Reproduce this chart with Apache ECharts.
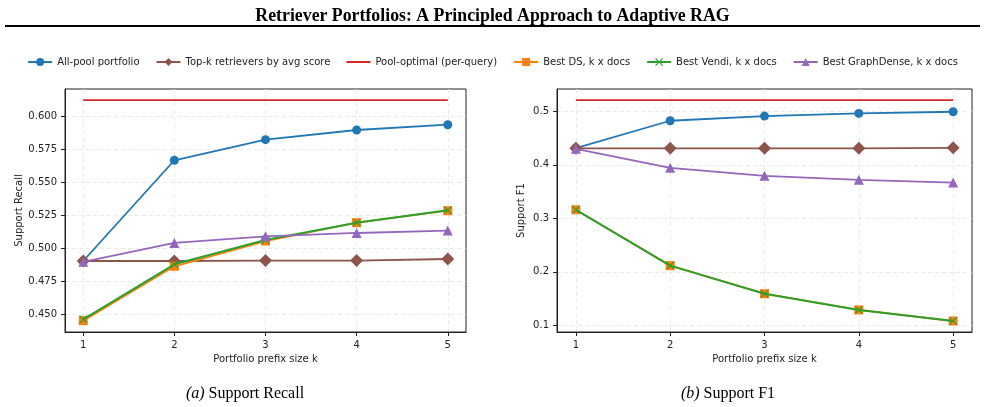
<!DOCTYPE html>
<html>
<head>
<meta charset="utf-8">
<script src="https://cdn.jsdelivr.net/npm/echarts@6/dist/echarts.min.js"></script>
<style>
    html, body { margin: 0; padding: 0; background: #fff; }
    #chart { width: 985px; height: 407px; }
</style>
</head>
<body>
<div id="chart"></div>
<script>
var kValues = [1, 2, 3, 4, 5];

// Support Recall (left panel)
var recallAllPool = [0.4903, 0.5665, 0.5821, 0.5894, 0.5934];
var recallTopK = [0.4903, 0.4903, 0.4906, 0.4906, 0.4918];
var recallPoolOptimal = [0.612, 0.612, 0.612, 0.612, 0.612];
var recallBestDS = [0.4452, 0.4863, 0.5054, 0.5193, 0.5284];
var recallBestVendi = [0.4462, 0.4878, 0.5062, 0.5193, 0.5287];
var recallBestGraphDense = [0.4897, 0.5040, 0.5090, 0.5115, 0.5133];
var recallTicks = [0.450, 0.475, 0.500, 0.525, 0.550, 0.575, 0.600];

// Support F1 (right panel)
var f1AllPool = [0.4314, 0.4826, 0.4913, 0.4963, 0.4994];
var f1TopK = [0.431, 0.431, 0.431, 0.431, 0.432];
var f1PoolOptimal = [0.5213, 0.5213, 0.5213, 0.5213, 0.5213];
var f1BestDS = [0.316, 0.2116, 0.159, 0.1287, 0.108];
var f1BestVendi = [0.316, 0.2116, 0.159, 0.1287, 0.108];
var f1BestGraphDense = [0.430, 0.3946, 0.3796, 0.372, 0.367];
var f1Ticks = [0.1, 0.2, 0.3, 0.4, 0.5];

var seriesNames = ['All-pool portfolio', 'Top-k retrievers by avg score', 'Pool-optimal (per-query)',
    'Best DS, k x docs', 'Best Vendi, k x docs', 'Best GraphDense, k x docs'];

var X_SYMBOL = 'path://M1,0 L5,4 L9,0 L10,1 L6,5 L10,9 L9,10 L5,6 L1,10 L0,9 L4,5 L0,1 Z';
var styles = [
    {color: '#1f77b4', symbol: 'circle', size: 9},
    {color: '#8c564b', symbol: 'diamond', size: 13},
    {color: '#d62728', symbol: 'none', size: 0},
    {color: '#ff7f0e', symbol: 'rect', size: 9},
    {color: '#2ca02c', symbol: X_SYMBOL, size: 8},
    {color: '#9467bd', symbol: 'triangle', size: 10}
];

function pairs(vals){
    return kValues.map(function(k, i){ return [k, vals[i]]; });
}

function makeSeries(idx, vals, panel){
    var st = styles[idx];
    return {
        name: seriesNames[idx],
        type: 'line',
        xAxisIndex: panel,
        yAxisIndex: panel,
        data: pairs(vals),
        symbol: st.symbol,
        symbolSize: st.size,
        showSymbol: st.symbol !== 'none',
        lineStyle: {color: st.color, width: idx === 4 ? 2 : 1.8},
        itemStyle: {color: st.color},
        emphasis: {disabled: true},
        z: 2 + idx,
        animation: false
    };
}

var axisFont = {fontFamily: 'DejaVu Sans', fontSize: 10, color: '#222'};
var gridLine = {show: true, lineStyle: {color: '#e4e4e4', type: [4, 3], width: 0.8}};

function xAxisFor(panel){
    return {
        type: 'value', gridIndex: panel, min: 0.8, max: 5.2,
        name: 'Portfolio prefix size k', nameLocation: 'middle', nameGap: 22,
        nameTextStyle: axisFont,
        axisLine: {show: true, onZero: false, lineStyle: {color: '#222', width: 1}},
        axisTick: {show: true, length: 4, lineStyle: {color: '#222'}, customValues: kValues},
        axisLabel: Object.assign({margin: 8, customValues: kValues, formatter: function(v){ return String(v); }}, axisFont),
        splitLine: gridLine
    };
}

function yAxisFor(panel, name, lo, hi, ticks, dec, gap){
    return {
        type: 'value', gridIndex: panel, min: lo, max: hi,
        name: name, nameLocation: 'middle', nameGap: gap,
        nameTextStyle: axisFont,
        axisLine: {show: true, onZero: false, lineStyle: {color: '#222', width: 1}},
        axisTick: {show: true, length: 4, lineStyle: {color: '#222'}, customValues: ticks},
        axisLabel: Object.assign({margin: 8, customValues: ticks, formatter: function(v){ return v.toFixed(dec); }}, axisFont),
        splitLine: gridLine
    };
}

var chart = echarts.init(document.getElementById('chart'), null, {renderer: 'canvas'});

var series = [
    makeSeries(0, recallAllPool, 0), makeSeries(1, recallTopK, 0), makeSeries(2, recallPoolOptimal, 0),
    makeSeries(3, recallBestDS, 0), makeSeries(4, recallBestVendi, 0), makeSeries(5, recallBestGraphDense, 0),
    makeSeries(0, f1AllPool, 1), makeSeries(1, f1TopK, 1), makeSeries(2, f1PoolOptimal, 1),
    makeSeries(3, f1BestDS, 1), makeSeries(4, f1BestVendi, 1), makeSeries(5, f1BestGraphDense, 1)
];

var legendData = seriesNames.map(function(n, i){
    if (styles[i].symbol === 'none') {
        return {name: n, icon: 'path://M0,4 L24,4 L24,6 L0,6 Z'};
    }
    return {name: n};
});

var option = {
    backgroundColor: '#fff',
    animation: false,
    title: [{
        text: 'Retriever Portfolios: A Principled Approach to Adaptive RAG',
        left: 'center', top: 2,
        textStyle: {fontFamily: 'Liberation Serif', fontWeight: 'bold', fontSize: 17.8, color: '#000'}
    }, {
        text: '{i|(a)} Support Recall',
        left: 240, top: 381, textAlign: 'center',
        textStyle: {fontFamily: 'Liberation Serif', fontWeight: 'normal', fontSize: 16, color: '#000',
            rich: {i: {fontFamily: 'Liberation Serif', fontStyle: 'italic', fontSize: 16, color: '#000'}}}
    }, {
        text: '{i|(b)} Support F1',
        left: 723, top: 381, textAlign: 'center',
        textStyle: {fontFamily: 'Liberation Serif', fontWeight: 'normal', fontSize: 16, color: '#000',
            rich: {i: {fontFamily: 'Liberation Serif', fontStyle: 'italic', fontSize: 16, color: '#000'}}}
    }],
    graphic: [{
        type: 'line',
        shape: {x1: 5, y1: 26, x2: 980, y2: 26},
        style: {stroke: '#000', lineWidth: 2}
    }],
    legend: {
        data: legendData,
        top: 52, left: 'center', width: 975,
        itemWidth: 24, itemHeight: 10, itemGap: 16,
        textStyle: {fontFamily: 'DejaVu Sans', fontSize: 10, color: '#222'}
    },
    grid: [
        {left: 65, top: 89, width: 401, height: 243, show: true, borderColor: '#222', borderWidth: 1, backgroundColor: 'transparent'},
        {left: 557, top: 89, width: 415, height: 243, show: true, borderColor: '#222', borderWidth: 1, backgroundColor: 'transparent'}
    ],
    xAxis: [xAxisFor(0), xAxisFor(1)],
    yAxis: [
        yAxisFor(0, 'Support Recall', 0.4366, 0.6204, recallTicks, 3, 40),
        yAxisFor(1, 'Support F1', 0.0874, 0.542, f1Ticks, 1, 31)
    ],
    series: series
};

chart.setOption(option);
</script>
</body>
</html>
